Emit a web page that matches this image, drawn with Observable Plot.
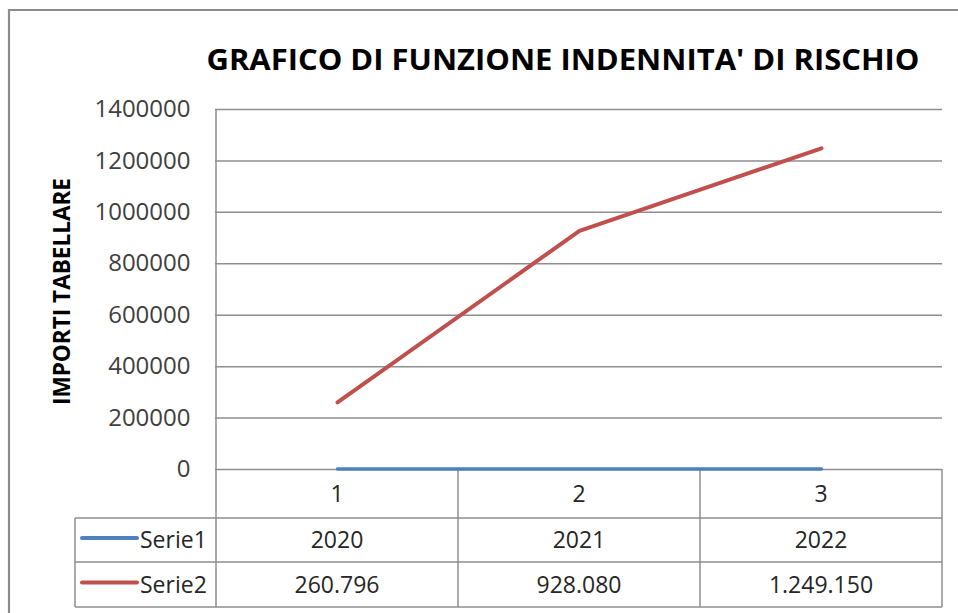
<!DOCTYPE html>
<html>
<head>
<meta charset="utf-8">
<script src="https://cdn.jsdelivr.net/npm/d3@7"></script>
<script src="https://cdn.jsdelivr.net/npm/@observablehq/plot@0.6"></script>
<style>
  html, body { margin: 0; padding: 0; background: #fff; }
  #chart { position: relative; width: 958px; height: 613px; overflow: hidden; }
  #chart svg { display: block; }
</style>
</head>
<body>
<div id="chart"></div>
<script>
const title = "GRAFICO DI FUNZIONE INDENNITA' DI RISCHIO";
const yLabel = "IMPORTI TABELLARE";
const categories = ["1", "2", "3"];
const seriesNames = ["Serie1", "Serie2"];
const serie1 = [2020, 2021, 2022];
const serie2 = [260796, 928080, 1249150];
const serie1Labels = ["2020", "2021", "2022"];
const serie2Labels = ["260.796", "928.080", "1.249.150"];
const yTicks = [0, 200000, 400000, 600000, 800000, 1000000, 1200000, 1400000];
const colors = ["#4F81BD", "#C0504D"];

const d1 = categories.map((c, i) => ({cat: c, v: serie1[i]}));
const d2 = categories.map((c, i) => ({cat: c, v: serie2[i]}));

const gridColor = "#8e8e8e";

const plot = Plot.plot({
  width: 958,
  height: 613,
  marginLeft: 215,
  marginRight: 16,
  marginTop: 109,
  marginBottom: 144,
  style: {fontFamily: "'Open Sans', sans-serif", fontSize: "24px", color: "#404040", background: "transparent", overflow: "visible"},
  x: {type: "point", domain: categories, padding: 0.5, axis: null},
  y: {domain: [0, 1400000], ticks: yTicks, tickFormat: d => String(d), label: null, tickSize: 0, tickPadding: 25},
  marks: [
    Plot.ruleY(yTicks, {stroke: gridColor, strokeWidth: 1.5}),
    Plot.line(d1, {x: "cat", y: "v", stroke: colors[0], strokeWidth: 3.5, strokeLinecap: "round"}),
    Plot.line(d2, {x: "cat", y: "v", stroke: colors[1], strokeWidth: 4, strokeLinecap: "round", strokeLinejoin: "round"})
  ]
});

document.getElementById("chart").appendChild(plot);

// Overlay: outer frame, title, y label and data table (positioned from Plot's scales)
const xs = plot.scale("x"), ys = plot.scale("y");
const centers = categories.map(c => xs.apply(c));
const step = centers[1] - centers[0];
const left = centers[0] - step / 2;
const right = centers[centers.length - 1] + step / 2;
const bounds = categories.map((c, i) => centers[i] - step / 2).concat([right]);
const y0 = ys.apply(0), yTop = ys.apply(1400000);
const catBottom = y0 + 49;
const s1Bottom = catBottom + 44;
const s2Bottom = s1Bottom + 45;
const legendLeft = 75;

const svg = d3.select(plot);
const g = svg.append("g");

// outer chart border (top & left)
g.append("path").attr("d", `M9,613 V10 H958`).attr("fill", "none").attr("stroke", "#8c8c8c").attr("stroke-width", 2.2);

// title
g.append("text").text(title)
  .attr("x", 563).attr("y", 69.5).attr("text-anchor", "middle")
  .attr("font-weight", "bold").attr("font-size", 28).attr("fill", "#000")
  .attr("textLength", 713).attr("lengthAdjust", "spacingAndGlyphs");

// y label
g.append("text").text(yLabel)
  .attr("transform", `translate(70,${(178 + 405) / 2}) rotate(-90)`)
  .attr("text-anchor", "middle")
  .attr("font-weight", "bold").attr("font-size", 22.5).attr("fill", "#000")
  .attr("textLength", 227).attr("lengthAdjust", "spacingAndGlyphs");

// table grid
const line = (x1, y1, x2, y2) => g.append("line").attr("x1", x1).attr("y1", y1).attr("x2", x2).attr("y2", y2)
  .attr("stroke", gridColor).attr("stroke-width", 1.5);
line(left, yTop, left, s2Bottom);
bounds.slice(1).forEach(b => line(b, y0, b, s2Bottom));
[catBottom, s1Bottom, s2Bottom].forEach(yy => line(legendLeft, yy, right, yy));
line(legendLeft, catBottom, legendLeft, s2Bottom);

// table texts
const tfont = 23;
const txt = (s, x, y, anchor) => g.append("text").text(s).attr("x", x).attr("y", y).attr("dy", "0.35em")
  .attr("text-anchor", anchor || "middle").attr("font-size", tfont).attr("fill", "#262626");
categories.forEach((c, i) => txt(c, centers[i], (y0 + catBottom) / 2));
const rowsY = [(catBottom + s1Bottom) / 2, (s1Bottom + s2Bottom) / 2];
[serie1Labels, serie2Labels].forEach((labels, r) => {
  labels.forEach((s, i) => txt(s, centers[i], rowsY[r]));
  g.append("line").attr("x1", 82).attr("x2", 137).attr("y1", rowsY[r] - 2).attr("y2", rowsY[r] - 2)
    .attr("stroke", colors[r]).attr("stroke-width", 4).attr("stroke-linecap", "round");
  txt(seriesNames[r], 140, rowsY[r], "start");
});

// lines on top of the table's zero line
svg.selectAll("g[aria-label='line']").raise();
</script>
</body>
</html>
